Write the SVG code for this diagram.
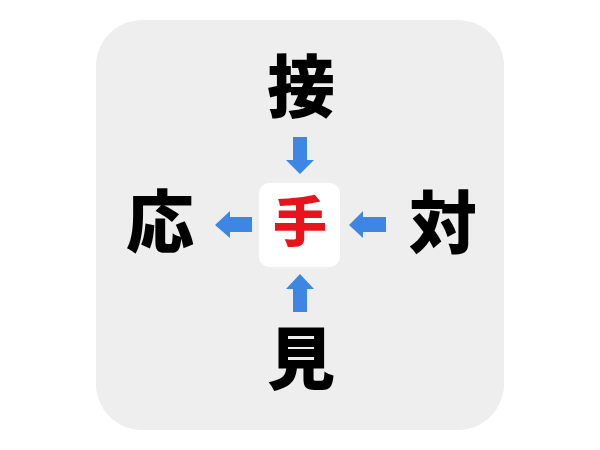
<svg xmlns="http://www.w3.org/2000/svg" width="600" height="450" viewBox="0 0 600 450">
<style>
.k{font-family:"Noto Sans CJK JP","Noto Sans CJK SC",sans-serif;font-weight:900;font-size:68px;fill:#000;text-anchor:middle}
.c{font-family:"Noto Sans CJK JP","Noto Sans CJK SC",sans-serif;font-weight:900;font-size:54px;fill:#e8141c;text-anchor:middle}
.a{fill:#3d86e4}
</style>
<rect width="600" height="450" fill="#fff"/>
<rect x="96" y="20" width="408" height="410" rx="46" fill="#eeeeee"/>
<g id="center"><rect x="259" y="183" width="81" height="84" rx="10" fill="#fff"/><text class="c" x="300" y="242">手</text></g>
<g id="top"><text class="k" x="301" y="112">接</text></g>
<g id="left"><text class="k" x="160" y="247">応</text></g>
<g id="right"><text class="k" x="443" y="248">対</text></g>
<g id="bottom"><text class="k" x="301" y="384">見</text></g>
<g id="connectors">
<path class="a" d="M293 137H307V160H314L300 174L286 160H293Z"/>
<path class="a" d="M252 217V232H230V238L215 225L230 211V217Z"/>
<path class="a" d="M386 217V232H363V238L349 225L363 211V217Z"/>
<path class="a" d="M293 312H307V289H314L300 274L286 289H293Z"/>
</g>
</svg>
